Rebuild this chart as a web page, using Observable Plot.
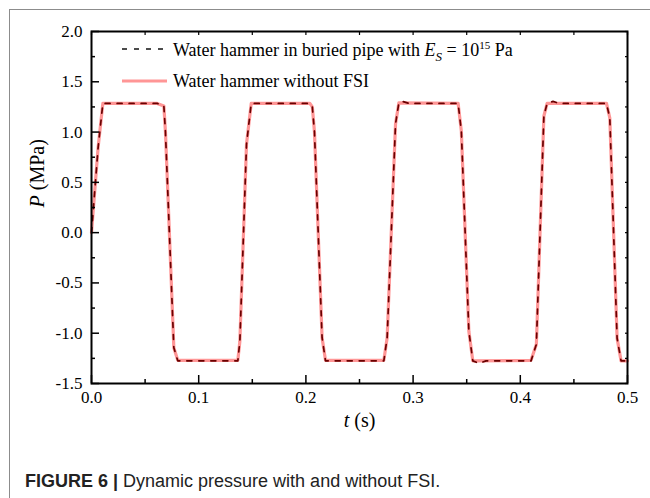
<!DOCTYPE html>
<html>
<head>
<meta charset="utf-8">
<script src="https://cdn.jsdelivr.net/npm/d3@7"></script>
<script src="https://cdn.jsdelivr.net/npm/@observablehq/plot@0.6"></script>
<style>
  html, body { margin: 0; padding: 0; background: #fff; }
  #wrap { position: relative; width: 650px; height: 498px; overflow: hidden; }
  #border { position: absolute; left: 9px; top: 9px; width: 660px; height: 500px;
            border-top: 1.5px solid #8c8c8c; border-left: 1.5px solid #8c8c8c; }
  #chart { position: absolute; left: 0; top: 0; }
  #overlay { position: absolute; left: 0; top: 0; }
</style>
</head>
<body>
<div id="wrap">
  <div id="border"></div>
  <div id="chart"></div>
  <svg id="overlay" width="650" height="498"></svg>
</div>
<script>
// Water hammer without FSI (solid pink)
const tNoFSI = [0.000, 0.0062, 0.0106, 0.0613, 0.0675, 0.069, 0.0768, 0.0805,
  0.1365, 0.1384, 0.1446, 0.149, 0.2037, 0.206, 0.208, 0.2151, 0.2183,
  0.2727, 0.2758, 0.2836, 0.2867, 0.342, 0.345, 0.352, 0.3557,
  0.410, 0.415, 0.422, 0.425, 0.4804, 0.4835, 0.4903, 0.494, 0.500];
const pNoFSI = [0.00, 0.85, 1.285, 1.285, 1.26, 1.00, -1.145, -1.27,
  -1.27, -1.08, 0.88, 1.285, 1.285, 1.25, 1.00, -1.045, -1.27,
  -1.27, -1.045, 1.08, 1.29, 1.285, 1.01, -0.98, -1.275,
  -1.27, -1.11, 1.16, 1.285, 1.285, 1.14, -1.05, -1.275, -1.275];

// Water hammer in buried pipe with Es = 1e15 Pa (dashed)
const tBuried = [0.000, 0.0062, 0.0106, 0.0613, 0.0675, 0.069, 0.0768, 0.0805,
  0.1365, 0.1384, 0.1446, 0.149, 0.2037, 0.206, 0.208, 0.2151, 0.2183,
  0.2727, 0.2758, 0.2836, 0.2867, 0.290, 0.296, 0.342, 0.345, 0.352, 0.3557, 0.3615, 0.368,
  0.410, 0.415, 0.422, 0.425, 0.4305, 0.436, 0.4804, 0.4835, 0.4903, 0.494, 0.500];
const pBuried = [0.00, 0.85, 1.285, 1.285, 1.26, 1.00, -1.145, -1.275,
  -1.275, -1.08, 0.88, 1.285, 1.285, 1.25, 1.00, -1.045, -1.275,
  -1.275, -1.045, 1.08, 1.29, 1.305, 1.285, 1.285, 1.01, -0.98, -1.275, -1.30, -1.275,
  -1.275, -1.11, 1.16, 1.285, 1.305, 1.285, 1.285, 1.14, -1.05, -1.275, -1.275];

const xMajor = [0, 0.1, 0.2, 0.3, 0.4, 0.5];
const xMinor = [0.05, 0.15, 0.25, 0.35, 0.45];
const yMajor = [-1.5, -1.0, -0.5, 0.0, 0.5, 1.0, 1.5, 2.0];
const yMinor = [-1.25, -0.75, -0.25, 0.25, 0.75, 1.25, 1.75];
const xLabel = "t (s)";
const yLabel = "P (MPa)";
const seriesNames = ["Water hammer in buried pipe with", "Water hammer without FSI"];
const captionBold = "FIGURE 6 | ";
const captionText = "Dynamic pressure with and without FSI.";

const noFSI = tNoFSI.map((t, i) => ({t, p: pNoFSI[i]}));
const buried = tBuried.map((t, i) => ({t, p: pBuried[i]}));
const fmt = d => d.toFixed(1);
const serif = "'Liberation Serif', 'Times New Roman', serif";

const chart = Plot.plot({
  width: 650, height: 450,
  marginLeft: 91, marginRight: 23, marginTop: 31, marginBottom: 67,
  style: {fontFamily: serif, fontSize: "17px", background: "transparent", color: "#000"},
  x: {domain: [0, 0.5]},
  y: {domain: [-1.5, 2]},
  marks: [
    Plot.line(noFSI, {x: "t", y: "p", stroke: "#ff9696", strokeWidth: 3.2}),
    Plot.line(buried, {x: "t", y: "p", stroke: "#6a0000", strokeWidth: 1.7, strokeDasharray: "5,7"}),
    Plot.frame({stroke: "#000", strokeWidth: 2}),
    // bottom
    Plot.axisX({anchor: "bottom", ticks: xMajor, tickSize: -8, fill: "none", strokeWidth: 1.5, label: null}),
    Plot.axisX({anchor: "bottom", ticks: xMinor, tickSize: -4, fill: "none", strokeWidth: 1.5, label: null}),
    Plot.axisX({anchor: "bottom", ticks: xMajor, tickSize: 0, tickPadding: 7, tickFormat: fmt, fontSize: 17, label: null}),
    // top
    Plot.axisX({anchor: "top", ticks: xMajor.concat(xMinor), tickSize: -3, fill: "none", strokeWidth: 1.2, label: null}),
    // left
    Plot.axisY({anchor: "left", ticks: yMajor, tickSize: -8, fill: "none", strokeWidth: 1.5, label: null}),
    Plot.axisY({anchor: "left", ticks: yMinor, tickSize: -4, fill: "none", strokeWidth: 1.5, label: null}),
    Plot.axisY({anchor: "left", ticks: yMajor, tickSize: 0, tickPadding: 9, tickFormat: fmt, fontSize: 17, label: null}),
    // right
    Plot.axisY({anchor: "right", ticks: yMajor.concat(yMinor), tickSize: -3, fill: "none", strokeWidth: 1.2, label: null}),
    // axis titles
    Plot.text([xLabel], {frameAnchor: "bottom", dy: 43, fontSize: 20, text: d => d, fill: "#000"}),
    Plot.text([yLabel], {frameAnchor: "left", dx: -54, rotate: -90, fontSize: 20, text: d => d, fill: "#000"})
  ]
});
document.getElementById("chart").appendChild(chart);

// italic variable letters in axis titles
d3.select(chart).selectAll("text").filter(function() { return this.textContent === xLabel; })
  .html('<tspan font-style="italic">t</tspan> (s)');
d3.select(chart).selectAll("text").filter(function() { return this.textContent === yLabel; })
  .html('<tspan font-style="italic">P</tspan> (MPa)');

// legend + caption
const ov = d3.select("#overlay");
ov.append("line").attr("x1", 122).attr("x2", 167).attr("y1", 49).attr("y2", 49)
  .attr("stroke", "#111").attr("stroke-width", 1.6).attr("stroke-dasharray", "5,7");
ov.append("line").attr("x1", 122).attr("x2", 167).attr("y1", 81).attr("y2", 81)
  .attr("stroke", "#ff9696").attr("stroke-width", 3.2);
const l1 = ov.append("text").attr("x", 173).attr("y", 56)
  .attr("font-family", serif).attr("font-size", 18).attr("fill", "#000");
l1.append("tspan").text(seriesNames[0] + " ");
l1.append("tspan").attr("font-style", "italic").text("E");
l1.append("tspan").attr("font-style", "italic").attr("font-size", 13).attr("dy", 5).text("S");
l1.append("tspan").attr("dy", -5).text(" = 10");
l1.append("tspan").attr("font-size", 11).attr("dy", -7).text("15");
l1.append("tspan").attr("dy", 7).text(" Pa");
ov.append("text").attr("x", 173).attr("y", 87)
  .attr("font-family", serif).attr("font-size", 18).attr("fill", "#000").text(seriesNames[1]);

const cap = ov.append("text").attr("x", 25).attr("y", 487)
  .attr("font-family", "'Liberation Sans', Arial, sans-serif").attr("font-size", 18).attr("fill", "#222");
cap.append("tspan").attr("font-weight", "bold").text(captionBold);
cap.append("tspan").text(captionText);
</script>
</body>
</html>
